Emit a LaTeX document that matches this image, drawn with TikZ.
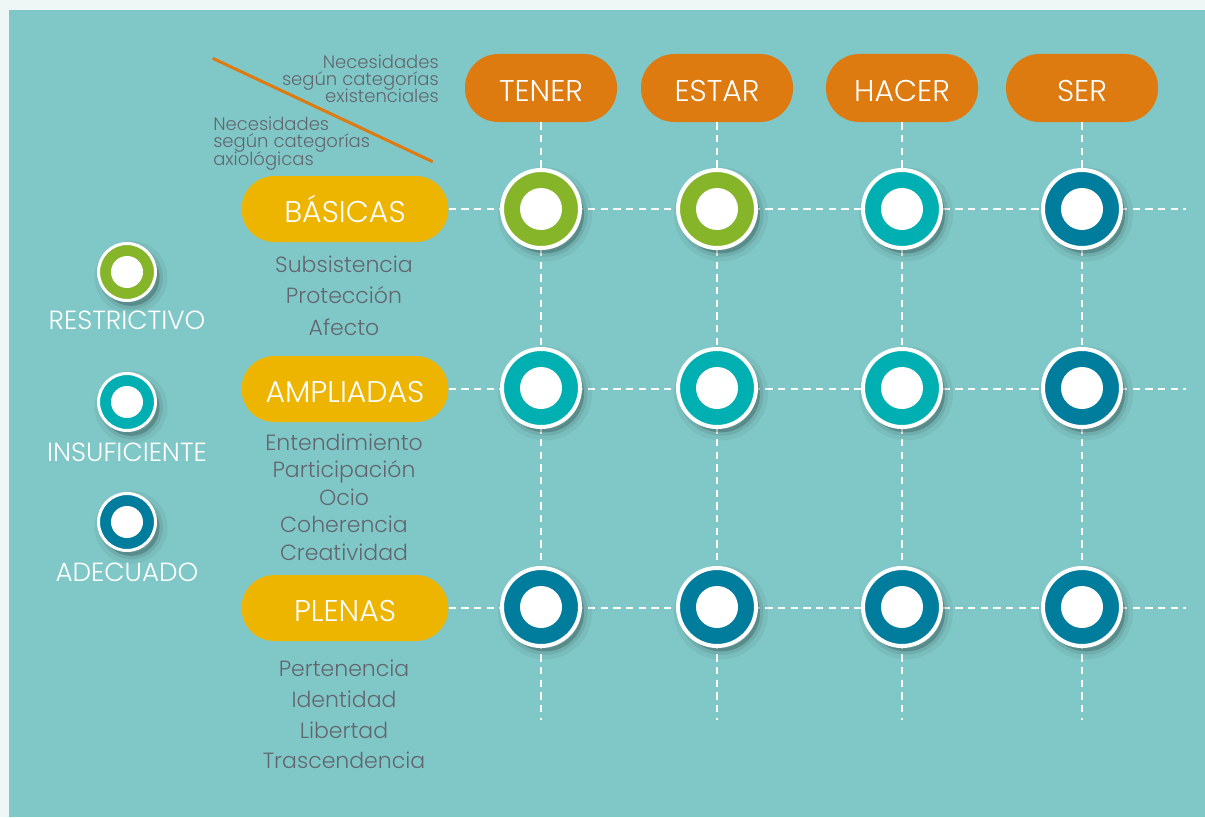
\documentclass[tikz,border=0pt]{standalone}
\usepackage{fontspec}
\IfFontExistsTF{Poppins Light}{\setmainfont{Poppins Light}}{\setmainfont{Poppins}}
\definecolor{bgout}{HTML}{EFF7F6}
\definecolor{panel}{HTML}{80C8C7}
\definecolor{orangeC}{HTML}{DD7B10}
\definecolor{yellowC}{HTML}{EDB500}
\definecolor{greenC}{HTML}{86B52A}
\definecolor{tealC}{HTML}{00AFB1}
\definecolor{blueC}{HTML}{007C9D}
\definecolor{grayT}{HTML}{62666F}
\tikzset{
  toppill/.style={rectangle, rounded corners=25pt, fill=orangeC, text=white, minimum width=114pt, minimum height=51pt, inner sep=0pt, font=\fontsize{22.5}{22.5}\selectfont, text height=20pt, text depth=0pt},
  rowpill/.style={rectangle, rounded corners=24.5pt, fill=yellowC, text=white, minimum width=155pt, minimum height=49.5pt, inner sep=0pt, font=\fontsize{22.5}{22.5}\selectfont, text height=20pt, text depth=0pt},
  gridline/.style={white, line width=1.5pt, dash pattern=on 5.5pt off 4pt},
  shadowed/.style={
    preaction={draw=black, draw opacity=0.05, line width=12pt, fill=black, fill opacity=0.2, transform canvas={shift={(3pt,-4pt)}}},
    preaction={draw=black, draw opacity=0.08, line width=5pt, transform canvas={shift={(3pt,-4pt)}}}},
  ring/.style={circle, shadowed, fill=#1, draw=white, line width=3pt, minimum size=58.5pt, inner sep=0pt,
    path picture={\fill[white] (path picture bounding box.center) circle (15.75pt);}},
  legring/.style={circle, shadowed, fill=#1, draw=white, line width=2.25pt, minimum size=42.75pt, inner sep=0pt,
    path picture={\fill[white] (path picture bounding box.center) circle (12pt);}},
  item/.style={text=grayT, font=\fontsize{16.5}{16.5}\selectfont, anchor=base, inner sep=0pt},
  head/.style={text=grayT, font=\fontsize{13.5}{13.5}\selectfont, inner sep=0pt},
  legtext/.style={text=white, font=\fontsize{19.7}{19.7}\selectfont, anchor=base, inner sep=0pt}
}
\begin{document}
\begin{tikzpicture}[x=0.75pt,y=-0.75pt]
\fill[bgout] (0,0) rectangle (1205,817);
\fill[panel] (9,10) rectangle (1205,817);
\useasboundingbox (0,0) rectangle (1205,817);

% diagonal header
\coordinate (ds) at (212.7,58.3);
\coordinate (de) at (432.7,161.7);
\draw[orangeC, line width=2.25pt] (ds) -- (de);
\node[head, anchor=base east] (h1) at (439,68.3) {Necesidades};
\node[head, anchor=base east] (h2) at (439,85.5) {según categorías};
\node[head, anchor=base east] (h3) at (439,102.3) {existenciales};
\node[head, anchor=base west] (h4) at (213,130) {Necesidades};
\node[head, anchor=base west] (h5) at (213,147.5) {según categorías};
\node[head, anchor=base west] (h6) at (213,165) {axiológicas};

% column headers
\node[toppill] (tener) at (541,88) {TENER};
\node[toppill] (estar) at (717,88) {ESTAR};
\node[toppill] (hacer) at (902,88) {HACER};
\node[toppill] (ser)   at (1082,88) {SER};

% row headers
\node[rowpill] (basicas)   at (345,209) {BÁSICAS};
\node[rowpill] (ampliadas) at (345,389) {AMPLIADAS};
\node[rowpill] (plenas)    at (345,608) {PLENAS};

% line ends
\coordinate (v1) at (541,720);
\coordinate (v2) at (717,720);
\coordinate (v3) at (902,720);
\coordinate (v4) at (1082,720);
\coordinate (r1) at (1186,209);
\coordinate (r2) at (1186,389);
\coordinate (r3) at (1186,608);

\draw[gridline] (tener.south) -- (v1);
\draw[gridline] (estar.south) -- (v2);
\draw[gridline] (hacer.south) -- (v3);
\draw[gridline] (ser.south) -- (v4);
\draw[gridline] (basicas.east) -- (r1);
\draw[gridline] (ampliadas.east) -- (r2);
\draw[gridline] (plenas.east) -- (r3);

% grid circles
\node[ring=greenC] (c11) at (541,209) {};
\node[ring=greenC] (c12) at (717,209) {};
\node[ring=tealC]  (c13) at (902,209) {};
\node[ring=blueC]  (c14) at (1082,209) {};
\node[ring=tealC]  (c21) at (541,388) {};
\node[ring=tealC]  (c22) at (717,388) {};
\node[ring=tealC]  (c23) at (902,388) {};
\node[ring=blueC]  (c24) at (1082,388) {};
\node[ring=blueC]  (c31) at (541,607) {};
\node[ring=blueC]  (c32) at (717,607) {};
\node[ring=blueC]  (c33) at (902,607) {};
\node[ring=blueC]  (c34) at (1082,607) {};

% lists
\node[item] (b1) at (344,272) {Subsistencia};
\node[item] (b2) at (344,303.5) {Protección};
\node[item] (b3) at (344,335) {Afecto};
\node[item] (a1) at (344,450) {Entendimiento};
\node[item] (a2) at (344,477.5) {Participación};
\node[item] (a3) at (344,505) {Ocio};
\node[item] (a4) at (344,532.5) {Coherencia};
\node[item] (a5) at (344,560) {Creatividad};
\node[item] (p1) at (344,676) {Pertenencia};
\node[item] (p2) at (344,707) {Identidad};
\node[item] (p3) at (344,738) {Libertad};
\node[item] (p4) at (344,768.5) {Trascendencia};

% legend
\node[legring=greenC] (l1) at (127,272) {};
\node[legtext] (lt1) at (127,329.3) {RESTRICTIVO};
\node[legring=tealC] (l2) at (127,402) {};
\node[legtext] (lt2) at (127,461.7) {INSUFICIENTE};
\node[legring=blueC] (l3) at (127,522) {};
\node[legtext] (lt3) at (127,581.7) {ADECUADO};
\end{tikzpicture}
\end{document}
